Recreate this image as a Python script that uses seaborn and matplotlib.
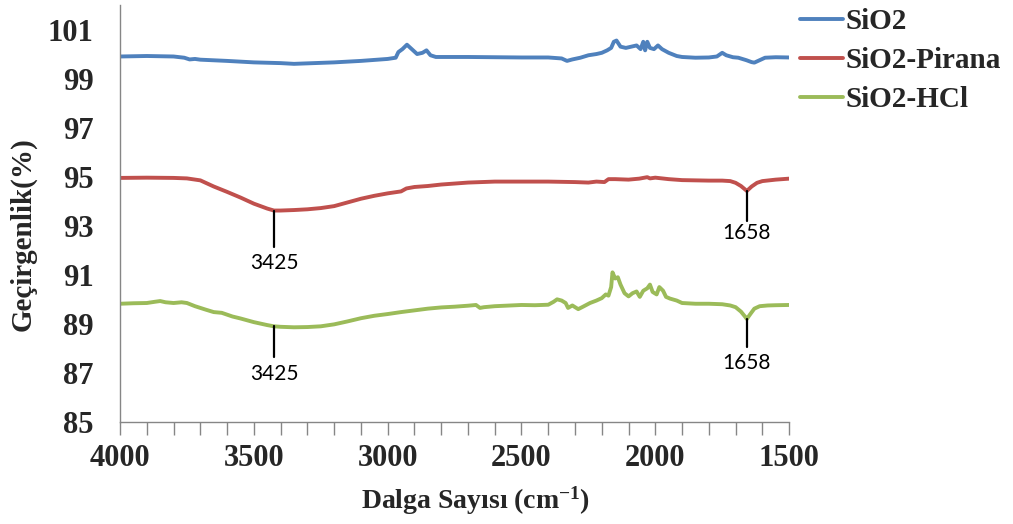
import matplotlib
matplotlib.use("Agg")
import matplotlib.pyplot as plt
from matplotlib.ticker import MultipleLocator
import numpy as np
import pandas as pd
import seaborn as sns

# FTIR transmittance spectra (wavenumber in cm-1, transmittance in %)
sio2_wn = [4000, 3900, 3800, 3760, 3740, 3720, 3700, 3600, 3500, 3400, 3350, 3300,
           3200, 3100, 3000, 2970, 2960, 2945, 2928, 2915, 2890, 2870, 2855, 2840,
           2820, 2700, 2600, 2500, 2400, 2350, 2330, 2310, 2280, 2250, 2220, 2200,
           2180, 2165, 2155, 2145, 2130, 2110, 2090, 2070, 2055, 2045, 2038, 2030,
           2020, 2005, 1990, 1975, 1950, 1920, 1900, 1850, 1800, 1770, 1750, 1735,
           1710, 1690, 1660, 1640, 1630, 1610, 1590, 1550, 1500]
sio2_t = [99.90, 99.92, 99.90, 99.85, 99.78, 99.80, 99.77, 99.72, 99.66, 99.63, 99.60, 99.62,
          99.66, 99.72, 99.80, 99.85, 100.08, 100.20, 100.38, 100.25, 100.00, 100.05, 100.15, 99.95,
          99.88, 99.88, 99.87, 99.86, 99.86, 99.82, 99.72, 99.78, 99.85, 99.95, 100.00, 100.05,
          100.15, 100.25, 100.50, 100.55, 100.30, 100.25, 100.30, 100.35, 100.20, 100.50, 100.15, 100.50,
          100.25, 100.20, 100.35, 100.20, 100.05, 99.92, 99.88, 99.85, 99.86, 99.90, 100.05, 99.95,
          99.87, 99.85, 99.75, 99.67, 99.65, 99.75, 99.85, 99.87, 99.86]

pirana_wn = [4000, 3900, 3800, 3750, 3700, 3650, 3600, 3550, 3500, 3450, 3425, 3400,
             3350, 3300, 3250, 3200, 3150, 3100, 3050, 3000, 2950, 2930, 2900, 2850,
             2800, 2700, 2600, 2500, 2400, 2300, 2250, 2220, 2190, 2175, 2150, 2100,
             2060, 2030, 2020, 2000, 1950, 1900, 1850, 1800, 1750, 1720, 1700, 1680,
             1658, 1640, 1620, 1600, 1550, 1500]
pirana_t = [94.95, 94.96, 94.95, 94.93, 94.85, 94.60, 94.38, 94.15, 93.90, 93.70, 93.62, 93.62,
            93.64, 93.67, 93.72, 93.80, 93.95, 94.10, 94.22, 94.32, 94.40, 94.52, 94.58, 94.62,
            94.68, 94.76, 94.80, 94.80, 94.80, 94.78, 94.76, 94.80, 94.78, 94.90, 94.90, 94.88,
            94.92, 94.98, 94.93, 94.96, 94.90, 94.86, 94.85, 94.84, 94.84, 94.82, 94.75, 94.62,
            94.42, 94.60, 94.75, 94.82, 94.88, 94.92]

hcl_wn = [4000, 3950, 3900, 3870, 3850, 3830, 3800, 3770, 3750, 3720, 3680, 3650,
          3620, 3580, 3550, 3500, 3450, 3425, 3400, 3350, 3300, 3250, 3200, 3150,
          3100, 3050, 3000, 2950, 2900, 2850, 2800, 2750, 2700, 2670, 2655, 2640,
          2600, 2500, 2450, 2400, 2380, 2367, 2350, 2335, 2326, 2310, 2288, 2270,
          2244, 2220, 2200, 2185, 2175, 2165, 2160, 2150, 2140, 2130, 2115, 2100,
          2085, 2070, 2058, 2045, 2030, 2020, 2010, 1995, 1985, 1971, 1960, 1945,
          1920, 1900, 1850, 1800, 1750, 1720, 1700, 1680, 1665, 1658, 1645, 1630,
          1610, 1580, 1550, 1500]
hcl_t = [89.82, 89.84, 89.85, 89.90, 89.93, 89.88, 89.85, 89.88, 89.85, 89.72, 89.58, 89.48,
         89.45, 89.30, 89.22, 89.07, 88.95, 88.90, 88.88, 88.86, 88.87, 88.90, 88.98, 89.10,
         89.23, 89.33, 89.40, 89.48, 89.55, 89.62, 89.67, 89.70, 89.74, 89.77, 89.65, 89.68,
         89.72, 89.77, 89.76, 89.78, 89.90, 90.00, 89.95, 89.85, 89.65, 89.75, 89.60, 89.70,
         89.85, 89.95, 90.05, 90.20, 90.15, 90.50, 91.10, 90.85, 90.90, 90.60, 90.25, 90.12,
         90.25, 90.32, 90.10, 90.35, 90.45, 90.60, 90.30, 90.20, 90.50, 90.35, 90.10, 90.03,
         89.95, 89.85, 89.82, 89.82, 89.80, 89.75, 89.68, 89.50, 89.30, 89.20, 89.40, 89.62,
         89.72, 89.75, 89.76, 89.77]

series_names = ["SiO2", "SiO2-Pirana", "SiO2-HCl"]
series_colors = ["#4F81BD", "#C0504D", "#9BBB59"]

# Labelled bands: (series, wavenumber, end of leader line, label centre)
band_series = ["SiO2-Pirana", "SiO2-Pirana", "SiO2-HCl", "SiO2-HCl"]
band_wn = [3425, 1658, 3425, 1658]
band_line_end = [92.15, 93.20, 87.65, 88.05]
band_label_y = [91.50, 92.70, 86.95, 87.40]

frames = []
for name, wn, t in zip(series_names,
                       [sio2_wn, pirana_wn, hcl_wn],
                       [sio2_t, pirana_t, hcl_t]):
    frames.append(pd.DataFrame({"wn": wn, "T": t, "sample": name}))
df = pd.concat(frames, ignore_index=True)

sns.set_theme(style="white")
plt.rcParams["font.family"] = ["Liberation Serif", "DejaVu Serif"]
plt.rcParams["mathtext.fontset"] = "custom"
plt.rcParams["mathtext.rm"] = "Liberation Serif:bold"
plt.rcParams["mathtext.bf"] = "Liberation Serif:bold"
plt.rcParams["mathtext.default"] = "rm"

fig = plt.figure(figsize=(10.13, 5.24), dpi=100)
ax = fig.add_axes([0.1185, 0.1947, 0.6605, 0.7958])

sns.lineplot(data=df, x="wn", y="T", hue="sample", hue_order=series_names,
             palette=series_colors, sort=False, estimator=None,
             linewidth=2.8, ax=ax)

ax.set_xlim(4000, 1500)
ax.set_ylim(85, 102)
ax.set_yticks(np.arange(85, 102, 2))
ax.xaxis.set_major_locator(MultipleLocator(500))
ax.xaxis.set_minor_locator(MultipleLocator(100))

for s in ["top", "right"]:
    ax.spines[s].set_visible(False)
for s in ["left", "bottom"]:
    ax.spines[s].set_color("#868686")
    ax.spines[s].set_linewidth(1.0)

ax.tick_params(axis="x", which="both", direction="out", length=9, width=1,
               color="#868686", bottom=True, pad=7)
ax.tick_params(axis="x", which="major", labelsize=22)
ax.tick_params(axis="y", length=0, pad=19, labelsize=22)
for lab in ax.get_xticklabels() + ax.get_yticklabels():
    lab.set_fontweight("bold")

ax.set_xlabel("Dalga Sayısı (cm$^{-1}$)", fontsize=20, fontweight="bold")
ax.set_ylabel("Geçirgenlik(%)", fontsize=21, fontweight="bold")
ax.xaxis.set_label_coords(0.532, -0.15)
ax.yaxis.set_label_coords(-0.125, 0.45)

# Leader lines and band labels
lookup = {n: dict(zip(w, t)) for n, w, t in zip(series_names,
                                                [sio2_wn, pirana_wn, hcl_wn],
                                                [sio2_t, pirana_t, hcl_t])}
for name, wn, y_end, y_lab in zip(band_series, band_wn, band_line_end, band_label_y):
    y_top = lookup[name][wn]
    ax.plot([wn, wn], [y_top, y_end], color="black", linewidth=1.6)
    ax.text(wn, y_lab, str(wn), ha="center", va="center", fontsize=15,
            family=["Lato", "DejaVu Sans"], color="black")

leg = ax.legend(loc="upper left", bbox_to_anchor=(0.790, 0.985),
                bbox_transform=fig.transFigure, frameon=False,
                prop={"size": 21, "weight": "bold"}, handlelength=1.45,
                handletextpad=0.1, labelspacing=0.42, borderpad=0,
                borderaxespad=0)
for line in leg.get_lines():
    line.set_linewidth(2.8)

fig.savefig("out.png", dpi=100)
